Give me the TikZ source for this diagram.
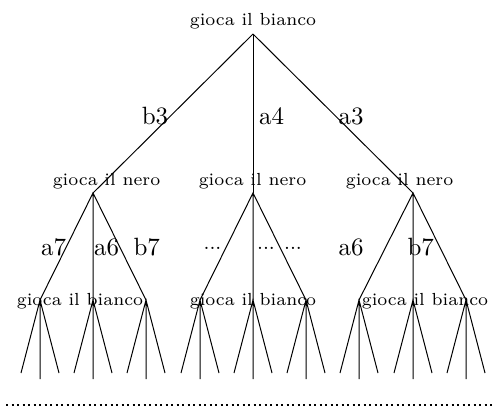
\documentclass[tikz,border=0pt]{standalone}
\usetikzlibrary{positioning}
\begin{document}
\begin{tikzpicture}[x=0.4pt,y=-0.4pt,
    turn/.style={font=\scriptsize,inner sep=0pt,anchor=base},
    move/.style={font=\normalsize,inner sep=0pt,anchor=base},
    more/.style={font=\footnotesize,inner sep=0pt,anchor=base}]
    \useasboundingbox (0,0) rectangle (497,407);

    % Branch points
    \coordinate (w) at (253,34);
    \foreach \n/\x in {1/93,2/253,3/413}
        \coordinate (n\n) at (\x,193);
    \foreach \x in {40,93,146,200,253,306,359,413,466}
        \coordinate (p\x) at (\x,300);

    % First moves
    \foreach \n in {1,2,3}
        \draw (w) -- (n\n);

    % Replies
    \foreach \n/\a/\b/\c in {1/40/93/146,2/200/253/306,3/359/413/466}
        \draw (p\a) -- (n\n) -- (p\c) (n\n) -- (p\b);

    % Next moves
    \foreach \x in {40,93,146,200,253,306,359,413,466}
    {
        \coordinate (l\x) at (\x-19,373);
        \coordinate (m\x) at (\x,379);
        \coordinate (r\x) at (\x+19,373);
        \draw (l\x) -- (p\x) -- (r\x) (p\x) -- (m\x);
    }

    % Who plays
    \node[turn] (bianco) at (253,25.7) {gioca il bianco};
    \node[turn] (nero1) at (106.5,185) {gioca il nero};
    \node[turn] (nero2) at (252.5,185) {gioca il nero};
    \node[turn] (nero3) at (399.5,185) {gioca il nero};
    \node[turn] (bianco1) at (80,305) {gioca il bianco};
    \node[turn] (bianco2) at (253,305) {gioca il bianco};
    \node[turn] (bianco3) at (425,305) {gioca il bianco};

    % Moves
    \node[move] (b3) at (155,124) {b3};
    \node[move] (a4) at (271.5,124) {a4};
    \node[move] (a3) at (351,124) {a3};
    \node[move] (a7) at (53.7,255.5) {a7};
    \node[move] (a6) at (106.7,255.5) {a6};
    \node[move] (b7) at (146.7,255.5) {b7};
    \node[more] (dots1) at (212.5,249) {...};
    \node[more] (dots2) at (266,249) {...};
    \node[more] (dots3) at (293,249) {...};
    \node[move] (a6r) at (351,255.5) {a6};
    \node[move] (b7r) at (420.7,255.5) {b7};

    % And so on
    \coordinate (d0) at (6,405);
    \coordinate (d1) at (494,405);
    \draw[line width=0.8pt,dash pattern=on 0.8pt off 1.4pt] (d0) -- (d1);

\end{tikzpicture}
\end{document}
